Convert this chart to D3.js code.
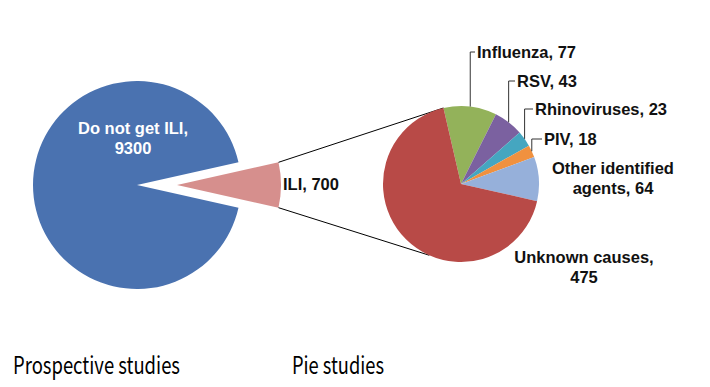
<!DOCTYPE html>
<html>
<head>
<meta charset="utf-8">
<script src="https://cdn.jsdelivr.net/npm/d3@7"></script>
<style>
  body { margin: 0; background: #fff; }
</style>
</head>
<body>
<div id="chart"></div>
<script>
// outer pie (prospective studies)
const outerNames = ['Do not get ILI', 'ILI'];
const outerValues = [9300, 700];
const outerColors = ['#4a72b0', '#d68f8d'];

// breakdown of ILI
const innerNames = ['Influenza', 'RSV', 'Rhinoviruses', 'PIV', 'Other identified agents', 'Unknown causes'];
const innerValues = [77, 43, 23, 18, 64, 475];
const innerColors = ['#93b25a', '#7b61a0', '#45a6c0', '#f0913f', '#96b0da', '#b84a47'];

const titles = ['Prospective studies', 'Pie studies'];

const W = 710, H = 387;
const FONT = '"Liberation Sans", Arial, sans-serif';
const rad = d => d * Math.PI / 180;

const svg = d3.select('#chart')
  .append('svg')
  .attr('width', W)
  .attr('height', H)
  .attr('font-family', FONT);

// left pie
const L = { cx: 137, cy: 185, r: 104, explode: 40 };
const iliFrac = outerValues[1] / d3.sum(outerValues);
const outerPie = d3.pie().sort(null)
  .startAngle(Math.PI / 2 + iliFrac * Math.PI)
  .endAngle(Math.PI / 2 + iliFrac * Math.PI + 2 * Math.PI);
const outerArcs = outerPie(outerValues);
const arcL = d3.arc().innerRadius(0).outerRadius(L.r);

const gL = svg.append('g').attr('transform', `translate(${L.cx},${L.cy})`);
gL.selectAll('path')
  .data(outerArcs)
  .join('path')
  .attr('d', arcL)
  .attr('fill', (d, i) => outerColors[i])
  .attr('transform', (d, i) => {
    if (i !== 1) return null;
    let mid = (d.startAngle + d.endAngle) / 2;
    return `translate(${L.explode * Math.sin(mid)},${-L.explode * Math.cos(mid)})`;
  });

gL.append('text')
  .attr('text-anchor', 'middle')
  .attr('font-weight', 'bold')
  .attr('font-size', 16.5)
  .attr('fill', '#fff')
  .selectAll('tspan')
  .data([outerNames[0] + ',', outerValues[0]])
  .join('tspan')
  .attr('x', -4)
  .attr('y', (d, i) => -51 + i * 20)
  .text(d => d);

// right pie
const R = { cx: 461, cy: 184, r: 78, start: -13 };
const innerPie = d3.pie().sort(null)
  .startAngle(rad(R.start))
  .endAngle(rad(R.start) + 2 * Math.PI);
const innerArcs = innerPie(innerValues);
const arcR = d3.arc().innerRadius(0).outerRadius(R.r);

// connector lines between the exploded ILI slice and the right pie
const ili = outerArcs[1];
const iliMid = (ili.startAngle + ili.endAngle) / 2;
const iliX = L.cx + L.explode * Math.sin(iliMid), iliY = L.cy - L.explode * Math.cos(iliMid);
const onL = a => [iliX + L.r * Math.sin(a), iliY - L.r * Math.cos(a)];
const onR = a => [R.cx + R.r * Math.sin(a), R.cy - R.r * Math.cos(a)];
const connectors = [
  [onL(ili.startAngle), onR(innerArcs[0].startAngle)],
  [onL(ili.endAngle), onR(rad(204))]
];
svg.append('g')
  .attr('stroke', '#000')
  .attr('stroke-width', 1)
  .selectAll('line')
  .data(connectors)
  .join('line')
  .attr('x1', d => d[0][0]).attr('y1', d => d[0][1])
  .attr('x2', d => d[1][0]).attr('y2', d => d[1][1]);

const gR = svg.append('g').attr('transform', `translate(${R.cx},${R.cy})`);
gR.selectAll('path')
  .data(innerArcs)
  .join('path')
  .attr('d', arcR)
  .attr('fill', (d, i) => innerColors[i]);

// label placement (absolute page coords), leader=true draws the elbow line
const labelPos = [
  { x: 477, y: 58, anchor: 'start', leader: true },
  { x: 517, y: 87, anchor: 'start', leader: true },
  { x: 535, y: 115, anchor: 'start', leader: true },
  { x: 544, y: 145, anchor: 'start', leader: true },
  { x: 613, y: 174, anchor: 'middle', leader: false, lines: ['Other identified', 'agents, '] },
  { x: 584, y: 263, anchor: 'middle', leader: false, lines: ['Unknown causes,', ''] }
];

const labels = svg.append('g')
  .attr('font-weight', 'bold')
  .attr('font-size', 16.5)
  .attr('fill', '#111');

innerArcs.forEach((d, i) => {
  let p = labelPos[i];
  if (p.leader) {
    let mid = (d.startAngle + d.endAngle) / 2;
    let [sx, sy] = onR(mid);
    let ly = p.y - 6;
    svg.append('path')
      .attr('fill', 'none')
      .attr('stroke', '#333')
      .attr('stroke-width', 1)
      .attr('d', `M${sx},${sy}V${ly}H${p.x - 2}`);
  }
  let t = labels.append('text').attr('text-anchor', p.anchor);
  if (p.lines) {
    t.selectAll('tspan')
      .data([p.lines[0], p.lines[1] + innerValues[i]])
      .join('tspan')
      .attr('x', p.x)
      .attr('y', (s, k) => p.y + k * 20)
      .text(s => s);
  } else {
    t.attr('x', p.x).attr('y', p.y).text(`${innerNames[i]}, ${innerValues[i]}`);
  }
});

// ILI label
labels.append('text')
  .attr('x', 283)
  .attr('y', 190)
  .text(`${outerNames[1]}, ${outerValues[1]}`);

// bottom titles
svg.append('g')
  .attr('font-family', '"Noto Sans CJK JP", sans-serif')
  .attr('font-size', 24)
  .attr('fill', '#000')
  .selectAll('text')
  .data(titles)
  .join('text')
  .attr('x', (d, i) => [13, 292][i])
  .attr('y', 374)
  .attr('textLength', (d, i) => [167, 92][i])
  .attr('lengthAdjust', 'spacingAndGlyphs')
  .text(d => d);
</script>
</body>
</html>
